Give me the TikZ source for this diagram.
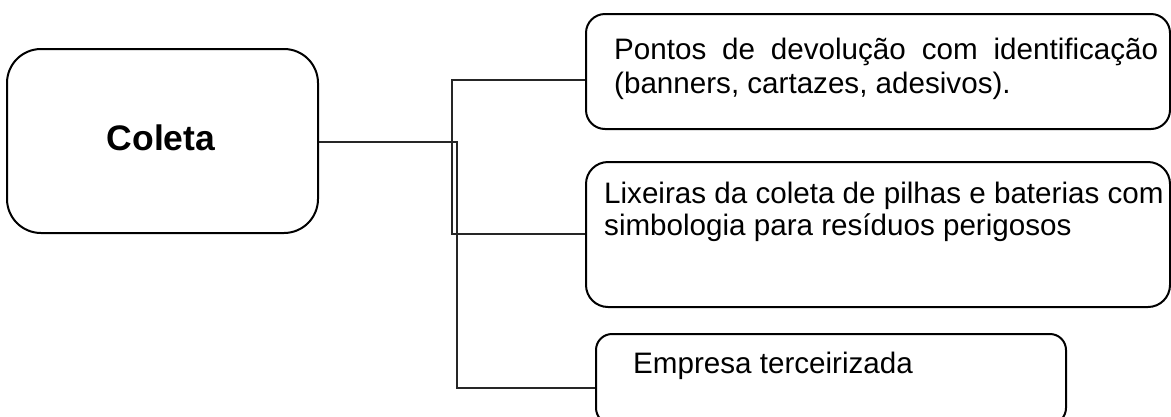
\documentclass[tikz,border=0pt]{standalone}
\usepackage{fontspec}
\setmainfont{Liberation Sans}
\usetikzlibrary{positioning}
\usetikzlibrary{fit}

\begin{document}
\begin{tikzpicture}[x=1pt,y=-1pt,
  caixa/.style={draw,line width=2pt,rounded corners=#1,inner sep=0pt},
  caixa/.default=20pt,
  texto/.style={anchor=base west,inner sep=0pt,font=\fontsize{29.6}{34}\selectfont},
  liga/.style={draw=black!85,line width=1.3pt}]
\useasboundingbox (0,0) rectangle (1171,416);
\clip (0,0) rectangle (1171,416);

% caixas
\node [caixa=34pt,fit={(7,49) (318,233)}] (coleta) {};
\node [caixa=19pt,fit={(586,14) (1170,129)}] (pontos) {};
\node [caixa=22pt,fit={(586,162) (1170,307)}] (lixeiras) {};
\node [caixa=16pt,fit={(596,334) (1066,424)}] (empresa) {};

% textos
\node [anchor=base,inner sep=0pt,font=\fontsize{35.5}{40}\selectfont\bfseries] (coleta-txt) at (161,150) {Coleta};
\node [texto] (pontos-a) at (614,59) {\makebox[544pt][s]{Pontos de devolução com identificação}};
\node [texto] (pontos-b) at (614,93) {(banners, cartazes, adesivos).};
\node [texto] (lixeiras-a) at (604,203) {Lixeiras da coleta de pilhas e baterias com};
\node [texto] (lixeiras-b) at (604,235) {simbologia para resíduos perigosos};
\node [texto] (empresa-a) at (633,373) {Empresa terceirizada};

% ligacoes
\coordinate (j1) at (452,80);
\coordinate (j2) at (452,234);
\coordinate (k1) at (457,142);
\coordinate (k2) at (457,388);
\draw [liga] (coleta.east |- k1) -- (k1) -- (k2) -- (k2 -| empresa.west);
\draw [liga] (j1 -| pontos.west) -- (j1) -- (j2) -- (j2 -| lixeiras.west);
\end{tikzpicture}
\end{document}
